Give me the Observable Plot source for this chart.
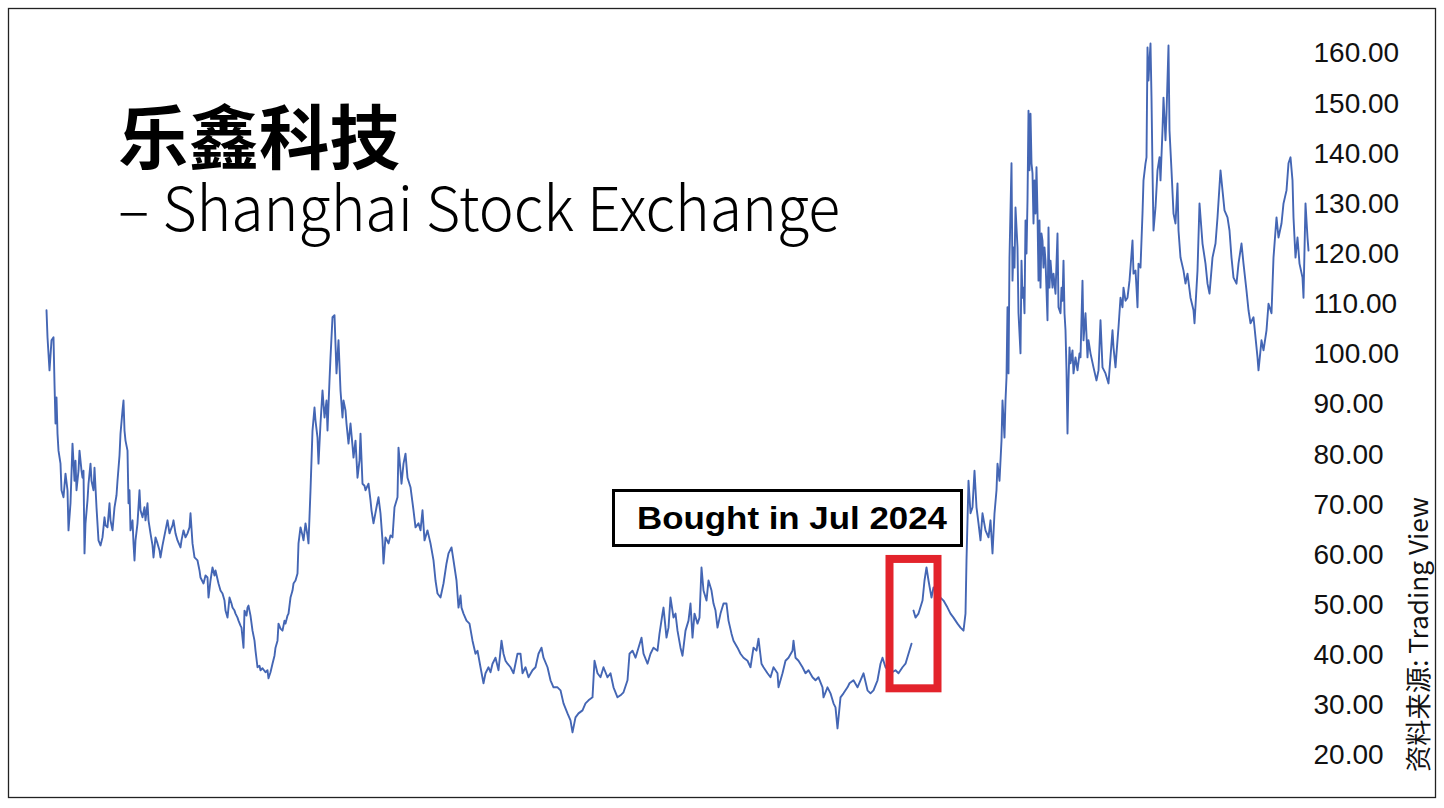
<!DOCTYPE html>
<html>
<head>
<meta charset="utf-8">
<script src="https://cdn.jsdelivr.net/npm/d3@7"></script>
<script src="https://cdn.jsdelivr.net/npm/@observablehq/plot@0.6"></script>
<style>
  html, body { margin: 0; padding: 0; background: #fff; }
  #wrap { position: relative; width: 1444px; height: 808px; overflow: hidden; }
  #chart, #overlay { position: absolute; left: 0; top: 0; }
  #overlay { pointer-events: none; }
</style>
</head>
<body>
<div id="wrap">
  <div id="chart"></div>
  <svg id="overlay" width="1444" height="808" xmlns="http://www.w3.org/2000/svg">
    <rect x="8.5" y="8.5" width="1427" height="789" fill="none" stroke="#222" stroke-width="1.3"/>
    <text x="118" y="164" font-family="'Noto Sans CJK SC', sans-serif" font-weight="700" font-size="70" textLength="282" lengthAdjust="spacingAndGlyphs" fill="#000">乐鑫科技</text>
    <text x="118" y="231" font-family="'Noto Sans CJK SC', sans-serif" font-weight="300" font-size="61" textLength="722" lengthAdjust="spacingAndGlyphs" fill="#000">– Shanghai Stock Exchange</text>
    <rect x="613.5" y="490.5" width="348" height="55" fill="#fff" stroke="#000" stroke-width="3"/>
    <text x="637" y="529" font-family="'Liberation Sans', Arial, sans-serif" font-weight="700" font-size="31" textLength="310" lengthAdjust="spacingAndGlyphs" fill="#000">Bought in Jul 2024</text>
    <text transform="translate(1428,772) rotate(-90)" font-family="'Noto Sans CJK SC', sans-serif" font-size="26" textLength="275" lengthAdjust="spacingAndGlyphs" fill="#111">资料来源: Trading View</text>
  </svg>
</div>
<script>
// Trading session number (from listing) and price
const session = [
0,1,3,5,7,8,9,10,11,12,14,15,17,19,21,22,24,26,28,29,30,32,33,35,36,37,38,39,41,42,44,45,47,48,50,52,54,56,58,59,
61,63,64,66,68,70,71,73,74,76,77,78,79,81,82,83,84,86,87,88,89,91,93,94,96,98,99,101,102,104,106,107,109,111,113,114,116,117,119,121,
123,124,126,127,129,131,134,135,137,139,141,143,144,146,148,151,153,154,157,159,161,162,164,166,168,169,172,174,176,178,179,181,183,185,186,188,189,191,192,194,
195,197,198,200,201,202,204,206,208,209,211,213,214,216,219,221,222,224,226,228,229,231,232,234,236,238,239,241,242,244,246,247,249,251,252,254,256,257,259,261,
262,264,266,268,269,271,272,274,276,278,280,281,283,284,286,288,290,292,294,296,297,299,300,302,304,306,307,309,311,313,314,316,318,319,322,324,325,327,330,332,
334,336,337,339,342,344,346,348,351,352,354,355,357,359,361,364,367,369,372,374,376,378,381,384,387,389,391,394,397,400,402,405,407,410,412,414,415,417,420,423,
426,429,431,434,437,439,442,444,446,449,452,455,457,459,461,464,467,471,474,476,479,482,486,489,492,495,497,501,504,507,511,514,517,521,524,526,529,532,536,539,
542,546,548,551,554,557,561,564,567,571,574,577,581,583,586,589,592,595,597,601,604,607,611,613,616,617,620,622,624,627,629,631,634,636,639,642,644,646,648,651,
653,655,657,660,662,665,667,669,671,674,677,680,682,685,687,691,694,697,701,704,707,710,712,715,717,721,724,727,731,732,736,739,742,746,747,749,752,756,759,762,
766,769,772,776,777,781,784,787,789,791,794,797,801,803,807,811,814,817,821,824,827,831,834,836,839,844,849,852,856,859,862,865,866,867,869,872,876,878,880,882,
885,887,891,894,897,901,904,907,911,914,917,919,920,922,924,926,928,930,932,934,936,939,942,944,946,948,950,951,953,955,956,958,959,960,961,962,963,965,966,967,
968,969,971,972,974,975,976,977,978,979,980,981,982,983,984,985,986,987,988,989,990,991,992,993,994,995,996,997,998,999,1001,1002,1003,1004,1006,1007,1009,1011,1012,1014,
1015,1016,1017,1018,1019,1020,1021,1022,1023,1024,1026,1027,1029,1031,1033,1034,1036,1037,1039,1041,1042,1044,1047,1050,1052,1054,1056,1059,1062,1066,1067,1069,1070,1072,1074,1076,1077,1079,1081,1083,
1084,1086,1087,1089,1090,1091,1092,1094,1096,1097,1099,1100,1101,1102,1103,1104,1105,1106,1107,1109,1111,1113,1114,1116,1117,1119,1120,1122,1123,1125,1127,1129,1131,1132,1134,1137,1139,1141,1144,1147,
1148,1151,1153,1156,1159,1161,1163,1166,1169,1171,1174,1176,1178,1181,1183,1185,1187,1190,1192,1195,1197,1200,1202,1204,1207,1209,1211,1212,1215,1217,1220,1222,1225,1227,1230,1232,1235,1237,1240,1242,
1244,1246,1247,1249,1251,1253,1256,1257,1259,1261,1262
];
const price = [
108.8,103.4,96.8,102.8,103.4,94.2,86.2,91.4,84.2,80.8,78.2,72.9,71.5,76.2,72.9,64.9,70.3,82.2,74.8,78.8,72.9,76.8,80.8,76.8,75.4,76.8,60.3,66.3,70.9,74.2,78.2,74.8,72.9,77.4,69.5,62.9,61.9,63.5,67.5,65.9,
65.5,70.3,66.9,64.9,69.5,71.9,74.8,79.8,84.2,88.8,90.8,84.8,82.8,80.8,70.3,72.9,64.9,66.9,62.3,58.9,62.9,66.3,72.9,68.9,67.5,69.5,66.9,70.3,66.9,64.3,61.9,59.5,63.5,62.3,60.9,59.5,61.9,62.9,64.9,66.9,
64.3,64.9,65.9,66.9,64.3,62.9,61.5,62.9,64.9,63.5,64.3,65.5,68.3,62.3,59.5,58.9,56.9,55.5,54.3,55.9,55.5,51.5,54.9,57.5,55.9,56.9,54.3,52.9,52.3,50.9,48.9,47.5,51.5,50.3,49.5,48.9,48.3,47.5,46.9,45.9,
45.5,41.5,48.9,47.9,49.5,49.9,47.9,44.9,42.9,40.9,37.6,37.9,37.0,37.4,36.6,37.0,35.4,36.6,38.3,39.9,41.5,42.9,46.3,45.3,44.9,46.9,46.3,47.9,48.3,51.5,52.9,54.3,54.9,56.3,62.3,65.5,63.9,62.9,66.3,63.9,
62.3,72.9,84.8,89.4,86.8,83.4,78.2,86.2,92.8,87.4,90.8,84.8,94.8,99.4,107.4,107.8,96.2,102.8,92.8,87.4,90.8,88.8,86.2,82.2,86.2,81.8,79.4,82.8,75.4,78.8,84.2,74.2,73.8,72.9,74.2,70.9,68.9,66.3,69.5,71.5,
68.3,62.9,58.3,63.5,62.3,63.9,63.5,69.5,71.5,81.4,76.8,74.2,78.2,80.2,75.4,73.5,68.9,65.5,66.3,64.9,68.9,62.9,64.9,62.3,58.9,54.9,52.3,51.5,54.3,58.3,60.3,61.5,58.9,54.9,49.5,51.9,49.5,48.3,46.9,46.3,
42.9,40.3,40.9,37.6,34.4,36.4,37.6,36.6,38.3,39.5,37.0,42.9,40.3,38.9,38.3,37.6,36.4,40.3,40.3,36.4,37.6,35.6,37.0,37.6,40.3,41.5,39.5,37.6,35.0,33.6,33.6,33.0,30.4,28.4,27.0,24.6,27.6,28.4,29.0,30.4,
31.0,31.6,38.9,36.4,35.6,37.6,35.6,36.4,33.6,31.6,32.0,32.6,35.0,40.3,40.9,39.5,41.5,43.5,40.3,38.3,40.3,41.5,40.9,44.3,48.3,49.5,43.5,45.5,51.5,47.5,48.3,44.9,41.5,39.9,44.9,46.9,50.3,43.5,48.3,46.3,
47.5,57.5,52.9,50.9,54.9,52.9,50.3,48.9,45.5,48.3,50.3,50.3,46.9,44.3,42.9,41.5,40.3,39.5,38.9,37.6,41.5,40.9,43.3,38.3,37.6,36.4,35.6,37.6,36.4,33.6,36.4,38.9,39.5,40.9,42.9,39.5,38.9,37.6,36.4,37.0,
35.6,35.0,35.6,33.6,31.6,33.6,32.4,30.4,29.6,25.4,31.6,32.4,33.6,34.4,35.0,33.6,35.0,36.4,33.0,32.4,33.0,35.0,38.3,39.5,37.6,36.4,37.0,36.4,37.6,38.3,40.3,42.3,null,48.9,47.5,48.3,50.9,54.9,57.5,54.9,
51.5,53.5,52.3,51.5,50.9,49.5,48.3,47.5,46.3,45.5,44.9,48.3,58.9,74.8,68.3,69.5,76.8,69.5,66.3,62.9,68.3,64.9,63.5,66.9,60.3,68.3,72.9,78.2,74.8,82.8,90.8,83.4,90.8,95.4,109.4,96.2,119.3,138.1,114.7,121.3,
117.3,129.3,121.3,108.2,100.2,118.7,111.3,113.3,108.2,126.7,120.1,130.7,148.6,136.7,148.0,138.1,136.1,126.1,134.7,128.1,137.3,128.1,114.7,126.7,113.3,124.1,122.7,117.3,121.3,118.7,106.8,125.3,113.3,118.7,113.3,116.1,112.1,124.1,109.4,108.2,
113.3,110.7,118.7,108.2,104.8,96.8,84.2,94.8,101.4,98.2,100.8,96.2,99.4,96.8,100.2,99.4,114.7,102.8,108.2,99.4,102.8,100.2,97.4,94.8,96.8,106.8,97.4,96.2,94.2,104.8,101.4,97.4,100.2,105.4,111.3,109.4,113.3,110.7,111.3,114.7,
117.3,122.7,116.1,116.7,113.3,109.4,118.1,117.3,128.1,134.7,138.1,139.3,161.2,154.6,158.6,162.0,151.2,136.7,124.7,129.3,136.7,139.3,134.7,144.7,151.2,142.7,148.0,161.6,144.7,136.7,128.1,126.1,134.1,124.7,119.3,116.7,114.1,116.1,111.3,108.8,
106.2,116.7,130.1,122.1,118.1,114.1,112.1,119.3,122.1,127.3,136.7,132.7,128.7,127.3,124.7,119.3,115.3,114.1,118.1,122.1,118.1,112.7,108.8,106.2,107.4,103.4,99.4,96.8,102.8,100.8,104.8,110.1,108.2,119.3,127.3,123.3,126.1,130.1,132.7,138.1,
139.3,134.7,127.3,119.3,123.3,118.1,115.3,111.3,130.1,123.3,120.7
];
const yTicks = [20, 30, 40, 50, 60, 70, 80, 90, 100, 110, 120, 130, 140, 150, 160];
// "Bought in Jul 2024" highlight: session range and price range
const boughtSessions = [843.5, 891.5];
const boughtPrices = [33.3, 59.1];

const data = session.map((s, i) => ({s, v: price[i]}));
const box = [{x1: boughtSessions[0], x2: boughtSessions[1], y1: boughtPrices[0], y2: boughtPrices[1]}];

const chart = Plot.plot({
  width: 1444,
  height: 808,
  marginLeft: 46,
  marginRight: 136,
  marginTop: 53,
  marginBottom: 53,
  style: {fontFamily: "'Liberation Sans', Arial, sans-serif", fontSize: "28px", overflow: "visible", background: "transparent", color: "#111"},
  x: {domain: [0, 1262], axis: null},
  y: {domain: [20, 160]},
  marks: [
    Plot.axisY({ticks: yTicks, anchor: "right", tickSize: 0, tickPadding: 5, tickFormat: d => d.toFixed(2), label: null, fontSize: 28}),
    Plot.line(data, {x: "s", y: "v", stroke: "#4466b4", strokeWidth: 1.9, strokeLinejoin: "round"}),
    Plot.rect(box, {x1: "x1", x2: "x2", y1: "y1", y2: "y2", fill: "none", stroke: "#e3232b", strokeWidth: 8})
  ]
});
document.getElementById("chart").appendChild(chart);
</script>
</body>
</html>
